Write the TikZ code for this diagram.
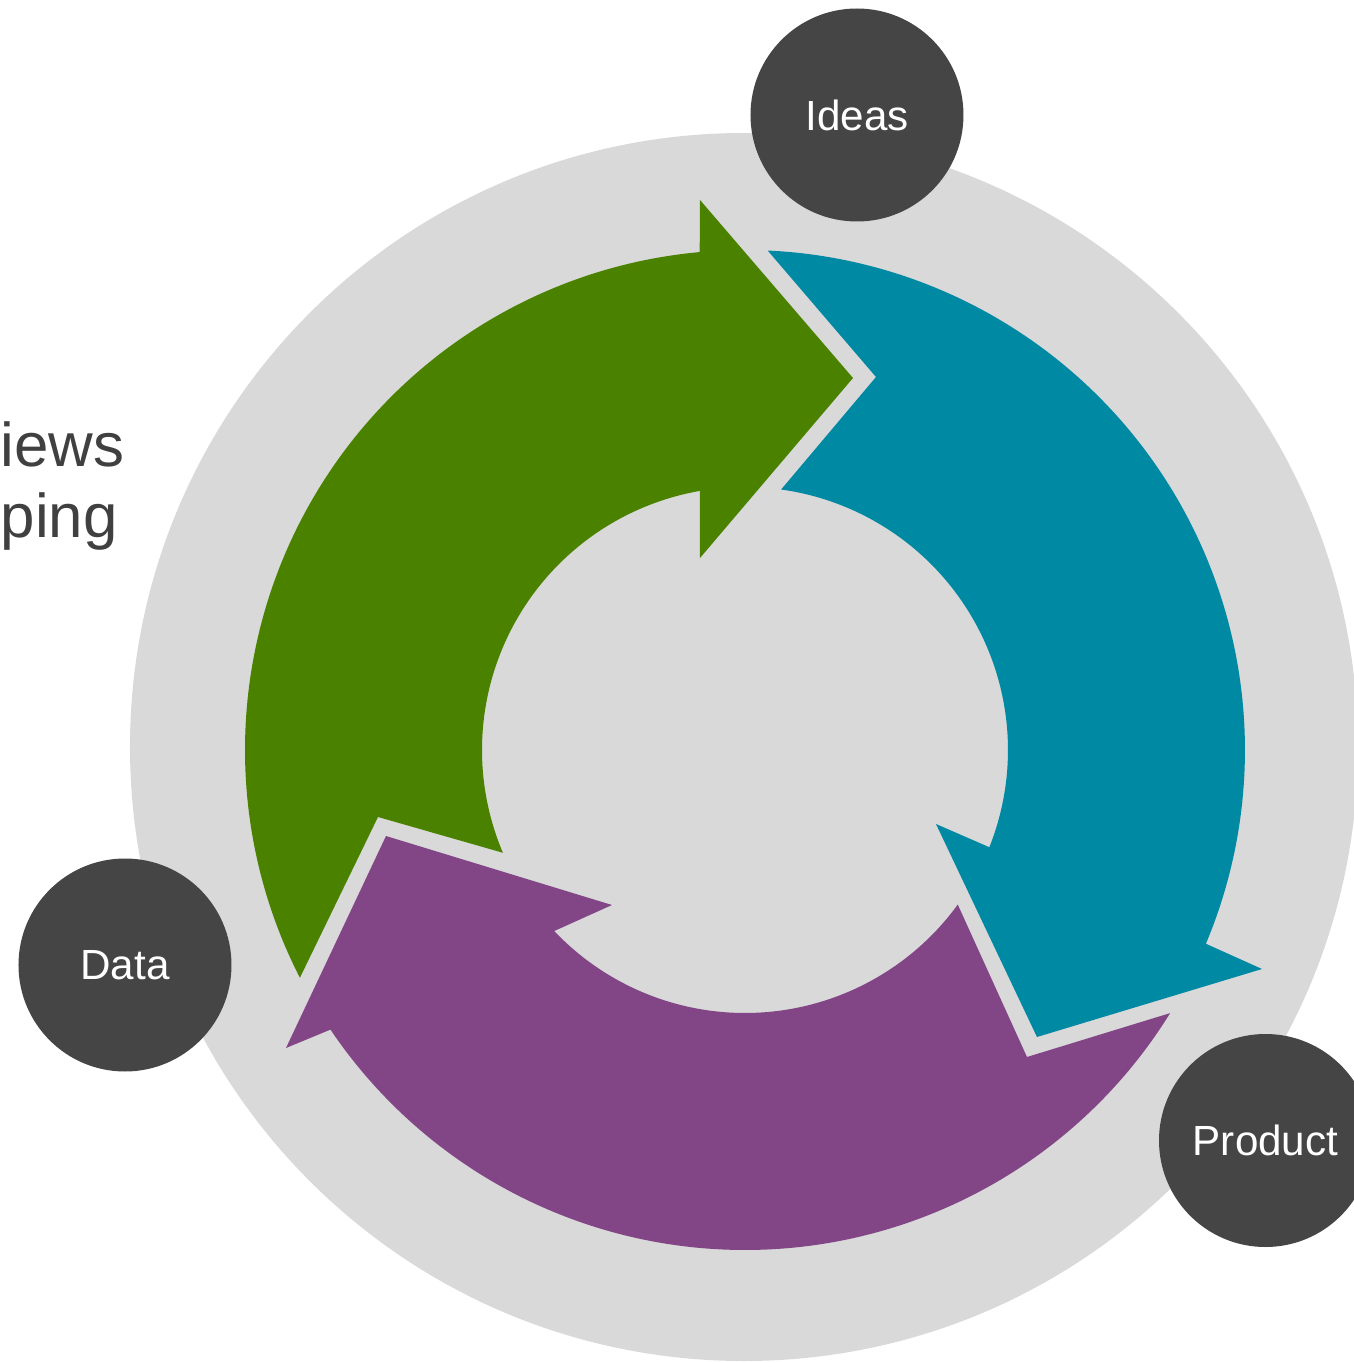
\documentclass[tikz,border=0pt]{standalone}
\usepackage{fontspec}
\setmainfont{Liberation Sans}

\definecolor{ringgray}{HTML}{D9D9D9}
\definecolor{darkdot}{HTML}{454545}
\definecolor{textgray}{HTML}{404040}
\definecolor{leafgreen}{HTML}{4A8200}
\definecolor{seateal}{HTML}{0089A3}
\definecolor{plum}{HTML}{824687}

\tikzset{
    stage/.style={circle, fill=darkdot, text=white, minimum size=2.13cm, inner sep=0pt,
        font=\fontsize{12}{14}\selectfont},
    sidetext/.style={anchor=base west, inner sep=0pt, text=textgray,
        font=\fontsize{17.6}{20}\selectfont}
}

\begin{document}
\begin{tikzpicture}
        \useasboundingbox (-7.45,-6.12) rectangle (6.08,7.50);

        % fundo
        \fill[ringgray] (-0.01,0.03) circle (6.14);

        % setas
        \fill[leafgreen] (207.1:5) arc[start angle=207.1, end angle=95.2, radius=5]
            -- (-0.45,5.50) -- (1.08,3.72) -- (-0.45,1.92)
            -- (99.9:2.63) arc[start angle=99.9, end angle=203.0, radius=2.63]
            -- (-3.67,-0.67) -- cycle;
        \fill[seateal] (87.4:5) arc[start angle=87.4, end angle=-22.8, radius=5]
            -- (5.17,-2.19) -- (2.92,-2.87) -- (1.91,-0.74)
            -- (-21.7:2.63) arc[start angle=-21.7, end angle=82.1, radius=2.63]
            -- (1.31,3.73) -- cycle;
        \fill[plum] (-31.75:5) arc[start angle=-31.75, end angle=-146.0, radius=5]
            -- (-4.59,-2.98) -- (-3.59,-0.86) -- (-1.33,-1.55)
            -- (-136.5:2.63) arc[start angle=-136.5, end angle=-36.0, radius=2.63]
            -- (2.82,-3.07) -- cycle;

        \node[stage] (ideas) at (1.12,6.35) {Ideas};
        \node[stage] (data) at (-6.20,-2.15) {\raisebox{-0.07cm}{Data}};
        \node[stage] (product) at (5.205,-3.905) {Product};

        \node[sidetext] (interviews) at (-7.45,2.83) {iews};
        \node[sidetext] (prototyping) at (-7.45,2.13) {ping};
    \end{tikzpicture}
\end{document}
